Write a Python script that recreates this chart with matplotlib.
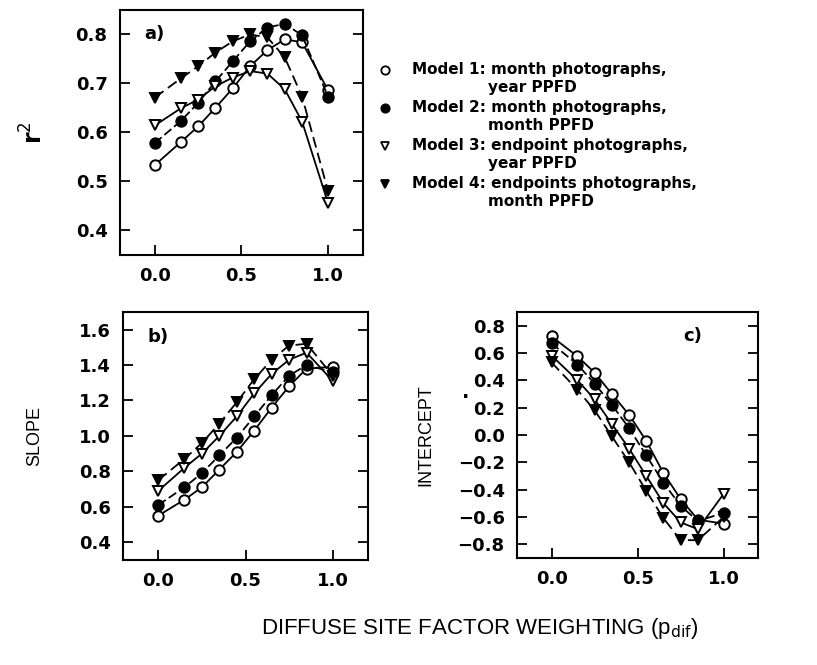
import matplotlib
matplotlib.use("Agg")
import matplotlib.pyplot as plt
from matplotlib.lines import Line2D

# diffuse site factor weighting
p_dif = [0.0, 0.15, 0.25, 0.35, 0.45, 0.55, 0.65, 0.75, 0.85, 1.0]

# a) r^2
r2_m1 = [0.533, 0.580, 0.612, 0.650, 0.690, 0.735, 0.768, 0.790, 0.784, 0.686]
r2_m2 = [0.578, 0.623, 0.660, 0.704, 0.745, 0.786, 0.814, 0.822, 0.798, 0.673]
r2_m3 = [0.614, 0.649, 0.667, 0.694, 0.712, 0.725, 0.720, 0.688, 0.622, 0.455]
r2_m4 = [0.671, 0.710, 0.735, 0.763, 0.786, 0.800, 0.794, 0.753, 0.673, 0.480]

# b) slope
slope_m1 = [0.55, 0.64, 0.71, 0.81, 0.91, 1.03, 1.16, 1.28, 1.38, 1.39]
slope_m2 = [0.61, 0.71, 0.79, 0.89, 0.99, 1.11, 1.23, 1.34, 1.40, 1.36]
slope_m3 = [0.69, 0.82, 0.90, 1.00, 1.11, 1.24, 1.35, 1.43, 1.47, 1.31]
slope_m4 = [0.75, 0.87, 0.96, 1.07, 1.19, 1.32, 1.43, 1.51, 1.52, 1.34]

# c) intercept
int_m1 = [0.72, 0.575, 0.455, 0.30, 0.147, -0.044, -0.28, -0.47, -0.62, -0.65]
int_m2 = [0.67, 0.515, 0.375, 0.22, 0.05, -0.15, -0.35, -0.52, -0.63, -0.57]
int_m3 = [0.58, 0.40, 0.26, 0.08, -0.10, -0.30, -0.50, -0.64, -0.69, -0.43]
int_m4 = [0.53, 0.33, 0.18, -0.01, -0.20, -0.41, -0.61, -0.77, -0.77, -0.60]

legend_labels = [("Model 1: month photographs,", "year PPFD"),
                 ("Model 2: month photographs,", "month PPFD"),
                 ("Model 3: endpoint photographs,", "year PPFD"),
                 ("Model 4: endpoints photographs,", "month PPFD")]

styles = [dict(marker='o', mfc='white', ls='-'),
          dict(marker='o', mfc='black', ls=(0, (5, 2))),
          dict(marker='v', mfc='white', ls='-'),
          dict(marker='v', mfc='black', ls=(0, (6, 3)))]

tickfont = dict(family='DejaVu Sans', weight='bold', size=13)

fig = plt.figure(figsize=(8.17, 6.65), dpi=100)
ax_a = fig.add_axes([0.147, 0.617, 0.297, 0.368])
ax_b = fig.add_axes([0.151, 0.158, 0.299, 0.373])
ax_c = fig.add_axes([0.633, 0.161, 0.295, 0.370])

panels = [(ax_a, [r2_m1, r2_m2, r2_m3, r2_m4], (0.35, 0.85), [0.4, 0.5, 0.6, 0.7, 0.8], 'a)', 0.1),
          (ax_b, [slope_m1, slope_m2, slope_m3, slope_m4], (0.3, 1.7),
           [0.4, 0.6, 0.8, 1.0, 1.2, 1.4, 1.6], 'b)', 0.1),
          (ax_c, [int_m1, int_m2, int_m3, int_m4], (-0.9, 0.9),
           [-0.8, -0.6, -0.4, -0.2, 0.0, 0.2, 0.4, 0.6, 0.8], 'c)', 0.69)]

for ax, series, ylim, yticks, tag, tx in panels:
    for vals, st in zip(series, styles):
        ax.plot(p_dif, vals, color='black', lw=1.3, ms=7.5, mec='black', mew=1.4, **st)
    ax.set_xlim(-0.2, 1.2)
    ax.set_ylim(*ylim)
    ax.set_xticks([0.0, 0.5, 1.0])
    ax.set_xticklabels(['0.0', '0.5', '1.0'], **tickfont)
    ax.set_yticks(yticks)
    ax.set_yticklabels([('%.1f' % v).replace('-', '\u2212') for v in yticks], **tickfont)
    ax.tick_params(direction='in', length=7, width=1.3, right=True, pad=9)
    for s in ax.spines.values():
        s.set_linewidth(1.5)
    ax.text(tx, 0.88, tag, transform=ax.transAxes, **tickfont)

ax_a.set_ylabel('r$^2$', fontsize=17, fontweight='bold', labelpad=20)
ax_b.set_ylabel('SLOPE', fontsize=13, family='Liberation Sans', labelpad=26)
ax_c.set_ylabel('INTERCEPT', fontsize=13, family='Liberation Sans', labelpad=17)
fig.text(0.565, 0.401, '.', fontsize=14, fontweight='bold')

fig.text(0.587, 0.055, 'DIFFUSE SITE FACTOR WEIGHTING (p$_{\\rm dif}$)',
         ha='center', va='center', fontsize=16, family='Liberation Sans')

# legend drawn by hand
leg_y = [0.895, 0.838, 0.781, 0.724]
for (l1, l2), st, y in zip(legend_labels, styles, leg_y):
    fig.add_artist(Line2D([0.471], [y], transform=fig.transFigure, marker=st['marker'],
                          mfc=st['mfc'], mec='black', mew=1.3, ms=6, ls='none'))
    fig.text(0.504, y, l1, va='center', fontsize=11, fontweight='bold')
    fig.text(0.597, y - 0.027, l2, va='center', fontsize=11, fontweight='bold')

fig.savefig('out.png', dpi=100)
